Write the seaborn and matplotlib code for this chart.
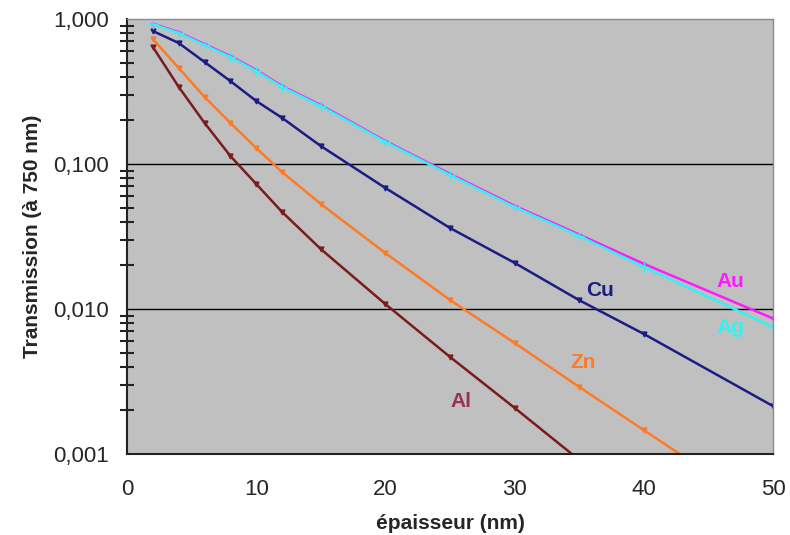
import matplotlib
matplotlib.use("Agg")
import matplotlib.pyplot as plt
import matplotlib.ticker as mticker
import seaborn as sns
import pandas as pd

# épaisseurs (nm) et transmissions
x_cu = [2, 4, 6, 8, 10, 12, 15, 20, 25, 30, 35, 40, 50]
cu = [0.826, 0.683, 0.505, 0.373, 0.272, 0.208, 0.133, 0.0683, 0.0362, 0.0208, 0.0115, 0.00673, 0.00214]

x_al = [2, 4, 6, 8, 10, 12, 15, 20, 25, 30, 35]
al = [0.641, 0.34, 0.192, 0.1135, 0.0728, 0.0467, 0.0259, 0.0108, 0.00467, 0.00208, 0.00091]

x_zn = [2, 4, 6, 8, 10, 12, 15, 20, 25, 30, 35, 40, 45]
zn = [0.728, 0.459, 0.29, 0.192, 0.129, 0.088, 0.053, 0.0243, 0.01153, 0.00583, 0.0029, 0.00146, 0.00074]

x_au = [2, 4, 6, 8, 10, 12, 15, 20, 25, 30, 35, 40, 50]
au = [0.93, 0.81, 0.67, 0.555, 0.445, 0.345, 0.255, 0.144, 0.0855, 0.0515, 0.0326, 0.0205, 0.0086]
ag = [0.92, 0.80, 0.66, 0.547, 0.438, 0.34, 0.251, 0.142, 0.084, 0.0505, 0.0319, 0.0195, 0.0075]

couleurs = {"Au": "#ff19ff", "Ag": "#33f2f2", "Cu": "#1c1c84", "Zn": "#ff7a26", "Al": "#7a1c1c"}
marqueurs = {"Au": ".", "Ag": "+", "Cu": "v", "Zn": "v", "Al": "v"}
tailles = {"Au": 4, "Ag": 7, "Cu": 3.5, "Zn": 3.5, "Al": 3.5}

frames = [
    pd.DataFrame({"ep": x_au, "T": au, "metal": "Au"}),
    pd.DataFrame({"ep": x_au, "T": ag, "metal": "Ag"}),
    pd.DataFrame({"ep": x_cu, "T": cu, "metal": "Cu"}),
    pd.DataFrame({"ep": x_zn, "T": zn, "metal": "Zn"}),
    pd.DataFrame({"ep": x_al, "T": al, "metal": "Al"}),
]
df = pd.concat(frames, ignore_index=True)

sns.set_style("white")
plt.rcParams['font.family'] = ['Liberation Sans', 'DejaVu Sans']

fig = plt.figure(figsize=(7.9, 5.35), dpi=100)
ax = fig.add_axes([0.1608, 0.1514, 0.8177, 0.8131])
ax.set_facecolor("#c0c0c0")

for m in ["Al", "Zn", "Cu", "Au", "Ag"]:
    sub = df[df.metal == m]
    sns.lineplot(data=sub, x="ep", y="T", color=couleurs[m], marker=marqueurs[m],
                 markersize=tailles[m], markeredgewidth=1, markeredgecolor=couleurs[m],
                 markerfacecolor=couleurs[m], linewidth=1.8, ax=ax, legend=False)

ax.set_yscale("log")
ax.set_xlim(0, 50)
ax.set_ylim(0.001, 1)

for yv in [0.1, 0.01]:
    ax.axhline(yv, color="black", linewidth=1.0, zorder=1)

ax.yaxis.set_major_locator(mticker.FixedLocator([0.001, 0.01, 0.1, 1]))
ax.set_yticklabels(["0,001", "0,010", "0,100", "1,000"])
ax.yaxis.set_minor_locator(mticker.LogLocator(base=10, subs=range(2, 10)))
ax.yaxis.set_minor_formatter(mticker.NullFormatter())
ax.set_xticks([0, 10, 20, 30, 40, 50])

ax.tick_params(axis="y", which="major", direction="out", length=7, width=1.5,
               labelsize=16, color="#222222", pad=6)
ax.tick_params(axis="y", which="minor", direction="inout", length=10, width=1.5,
               color="#222222", left=True)
ax.tick_params(axis="x", which="major", direction="in", length=7, width=1.2,
               labelsize=16, color="#222222", pad=18)
ax.tick_params(axis="x", which="minor", bottom=False)

for s in ["left", "bottom"]:
    ax.spines[s].set_color("#222222")
    ax.spines[s].set_linewidth(1.5)
for s in ["top", "right"]:
    ax.spines[s].set_color("#8a8a8a")
    ax.spines[s].set_linewidth(1.0)

ax.set_xlabel("épaisseur (nm)", fontsize=15, fontweight="bold", labelpad=10)
ax.set_ylabel("Transmission (à 750 nm)", fontsize=15, fontweight="bold", labelpad=8)

etiquettes = {"Au": (46.7, 0.0154), "Ag": (46.7, 0.0074), "Cu": (36.6, 0.0135),
              "Zn": (35.3, 0.0043), "Al": (25.85, 0.0023)}
for m, (xt, yt) in etiquettes.items():
    col = "#993355" if m == "Al" else couleurs[m]
    ax.text(xt, yt, m, color=col, fontsize=15, fontweight="bold", ha="center", va="center")

fig.savefig("out.png", dpi=100)
